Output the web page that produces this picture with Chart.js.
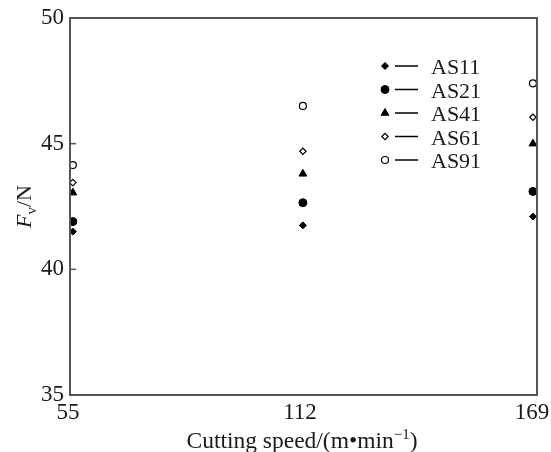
<!DOCTYPE html>
<html>
<head>
<meta charset="utf-8">
<script src="https://cdn.jsdelivr.net/npm/chart.js@4"></script>
<style>
  html, body { margin: 0; padding: 0; background: #fff; }
  canvas { display: block; }
</style>
</head>
<body>
<canvas id="chart" width="551" height="452"></canvas>
<script>
// --- 데이터 ---
const speeds = [56.2, 112.7, 169.2];         // 절삭 속도 (점 위치)
const speedTicks = [55, 112, 169];           // x축 눈금
const forceTicks = [35, 40, 45, 50];         // y축 눈금
const seriesNames = ['AS11', 'AS21', 'AS41', 'AS61', 'AS91'];
const as11 = [41.5, 41.75, 42.1];
const as21 = [41.9, 42.65, 43.1];
const as41 = [43.05, 43.8, 45.0];
const as61 = [43.45, 44.7, 46.05];
const as91 = [44.15, 46.5, 47.4];

const FONT = '"Liberation Serif", "Times New Roman", serif';
const INK = '#1a1a1a';
const FRAME = '#555';

// 시리즈별 마커 스타일
const markers = [
    { pointStyle: 'rectRot', radius: 3.5, fill: '#000', border: '#000', bw: 1 },
    { pointStyle: 'circle', radius: 4, fill: '#000', border: '#000', bw: 1 },
    { pointStyle: 'triangle', radius: 4.5, fill: '#000', border: '#000', bw: 1 },
    { pointStyle: 'rectRot', radius: 3.2, fill: '#fff', border: '#000', bw: 1.2 },
    { pointStyle: 'circle', radius: 3.5, fill: '#fff', border: '#000', bw: 1.2 }
];

const values = [as11, as21, as41, as61, as91];
const datasets = values.map((vals, i) => ({
    label: seriesNames[i],
    data: vals.map((v, j) => ({ x: speeds[j], y: v })),
    showLine: false,
    pointStyle: markers[i].pointStyle,
    pointRadius: markers[i].radius,
    pointHoverRadius: markers[i].radius,
    pointBackgroundColor: markers[i].fill,
    pointBorderColor: markers[i].border,
    pointBorderWidth: markers[i].bw
}));

// --- 프레임, 안쪽 눈금, 범례, 축 제목 ---
const decorPlugin = {
    id: 'decor',
    afterDraw(chart) {
        const ctx = chart.ctx;
        const area = chart.chartArea;
        const yScale = chart.scales.y;
        ctx.save();

        // 프레임
        ctx.strokeStyle = FRAME;
        ctx.lineWidth = 2;
        ctx.strokeRect(area.left, area.top, area.right - area.left, area.bottom - area.top);

        // y축 안쪽 눈금
        ctx.lineWidth = 1.5;
        forceTicks.forEach(t => {
            const y = yScale.getPixelForValue(t);
            ctx.beginPath();
            ctx.moveTo(area.left, y);
            ctx.lineTo(area.left + 6, y);
            ctx.stroke();
        });

        // 범례
        ctx.textAlign = 'left';
        ctx.textBaseline = 'middle';
        seriesNames.forEach((name, i) => {
            const y = 66 + i * 23.5;
            const m = markers[i];
            ctx.fillStyle = m.fill;
            ctx.strokeStyle = m.border;
            ctx.lineWidth = m.bw;
            Chart.helpers.drawPoint(ctx, {
                pointStyle: m.pointStyle, radius: m.radius, rotation: 0, borderWidth: m.bw
            }, 385, y);
            ctx.strokeStyle = '#000';
            ctx.lineWidth = 1.5;
            ctx.beginPath();
            ctx.moveTo(395, y);
            ctx.lineTo(418, y);
            ctx.stroke();
            ctx.fillStyle = INK;
            ctx.font = '22px ' + FONT;
            ctx.fillText(name, 431, y + 2.5);
        });

        // x축 제목: Cutting speed/(m•min⁻¹)
        const main = 'Cutting speed/(m\u2022min';
        const sup = '\u22121';
        ctx.textBaseline = 'alphabetic';
        ctx.font = '23.5px ' + FONT;
        const wMain = ctx.measureText(main).width;
        const wClose = ctx.measureText(')').width;
        ctx.font = '15px ' + FONT;
        const wSup = ctx.measureText(sup).width;
        let x = 302 - (wMain + wSup + wClose) / 2;
        const base = 448;
        ctx.font = '23.5px ' + FONT;
        ctx.fillText(main, x, base);
        x += wMain;
        ctx.font = '15px ' + FONT;
        ctx.fillText(sup, x, base - 9);
        x += wSup;
        ctx.font = '23.5px ' + FONT;
        ctx.fillText(')', x, base);

        // y축 제목: F_v/N (회전)
        ctx.translate(31, (area.top + area.bottom) / 2);
        ctx.rotate(-Math.PI / 2);
        ctx.font = 'italic 22px ' + FONT;
        const wF = ctx.measureText('F').width;
        ctx.font = '15px ' + FONT;
        const wV = ctx.measureText('v').width;
        ctx.font = '22px ' + FONT;
        const wN = ctx.measureText('/N').width;
        let tx = -(wF + wV + wN) / 2;
        ctx.font = 'italic 22px ' + FONT;
        ctx.fillText('F', tx, 0);
        tx += wF;
        ctx.font = '15px ' + FONT;
        ctx.fillText('v', tx, 5);
        tx += wV;
        ctx.font = '22px ' + FONT;
        ctx.fillText('/N', tx, 0);

        ctx.restore();
    }
};

new Chart(document.getElementById('chart'), {
    type: 'scatter',
    data: { datasets: datasets },
    options: {
        responsive: false,
        devicePixelRatio: 1,
        animation: false,
        layout: { padding: { top: 18, right: 14, left: 0, bottom: 0 } },
        plugins: {
            legend: { display: false },
            tooltip: { enabled: false }
        },
        scales: {
            x: {
                type: 'linear',
                min: 55.5,
                max: 170.2,
                afterBuildTicks: scale => { scale.ticks = speedTicks.map(v => ({ value: v })); },
                afterFit: scale => { scale.height = 57; scale.paddingLeft = 0; scale.paddingRight = 0; },
                grid: { display: false, drawTicks: false },
                border: { display: false },
                ticks: {
                    padding: 4,
                    maxRotation: 0,
                    autoSkip: false,
                    color: INK,
                    font: { family: FONT, size: 23 }
                }
            },
            y: {
                min: 35,
                max: 50,
                afterBuildTicks: scale => { scale.ticks = forceTicks.map(v => ({ value: v })); },
                afterFit: scale => { scale.width = 70; scale.paddingTop = 0; scale.paddingBottom = 0; },
                grid: { display: false, drawTicks: false },
                border: { display: false },
                ticks: {
                    padding: 6,
                    color: INK,
                    font: { family: FONT, size: 23 }
                }
            }
        }
    },
    plugins: [decorPlugin]
});
</script>
</body>
</html>
